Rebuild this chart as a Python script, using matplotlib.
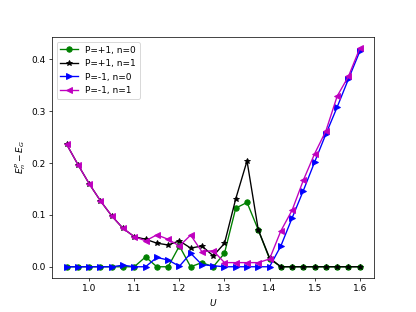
import numpy as np
import matplotlib
matplotlib.use("Agg")
import matplotlib.pyplot as plt

U = [0.95, 0.975, 1.0, 1.025, 1.05, 1.075, 1.1, 1.125, 1.15, 1.175, 1.2,
     1.225, 1.25, 1.275, 1.3, 1.325, 1.35, 1.375, 1.4, 1.425, 1.45, 1.475,
     1.5, 1.525, 1.55, 1.575, 1.6]

# P=+1, n=0
p1_n0 = [0.0, 0.0, 0.0, 0.0, 0.0, 0.0, 0.0, 0.019, 0.0, 0.0, 0.040,
         0.0, 0.008, 0.0, 0.026, 0.113, 0.124, 0.071, 0.015, 0.0, 0.0, 0.0,
         0.0, 0.0, 0.0, 0.0, 0.0]
# P=+1, n=1
p1_n1 = [0.236, 0.197, 0.160, 0.127, 0.098, 0.074, 0.058, 0.053, 0.0455, 0.042, 0.050,
         0.036, 0.040, 0.021, 0.045, 0.131, 0.204, 0.071, 0.017, 0.0, 0.0, 0.0,
         0.0, 0.0, 0.0, 0.0, 0.0]
# P=-1, n=0
m1_n0 = [0.0, 0.0, 0.0, 0.0, 0.0, 0.003, 0.0, 0.0, 0.018, 0.013, 0.001,
         0.026, 0.004, 0.002, 0.0, 0.0, 0.0, 0.0, 0.0, 0.040, 0.094, 0.147,
         0.202, 0.256, 0.308, 0.362, 0.415]
# P=-1, n=1
m1_n1 = [0.236, 0.197, 0.160, 0.127, 0.098, 0.074, 0.058, 0.050, 0.0615, 0.053, 0.040,
         0.061, 0.029, 0.031, 0.008, 0.008, 0.008, 0.008, 0.015, 0.069, 0.109, 0.167,
         0.218, 0.262, 0.329, 0.367, 0.421]

fig, ax = plt.subplots(figsize=(6.4, 4.8), dpi=65)
ax.plot(U, p1_n0, "o-", color="green", label="P=+1, n=0")
ax.plot(U, p1_n1, "*-", color="black", label="P=+1, n=1")
ax.plot(U, m1_n0, ">-", color="blue", label="P=-1, n=0")
ax.plot(U, m1_n1, "<-", color="m", label="P=-1, n=1")
ax.set_xlabel("$U$")
ax.set_ylabel("$E_n^P - E_G$")
ax.legend(loc="upper left")
fig.savefig("out.png")
